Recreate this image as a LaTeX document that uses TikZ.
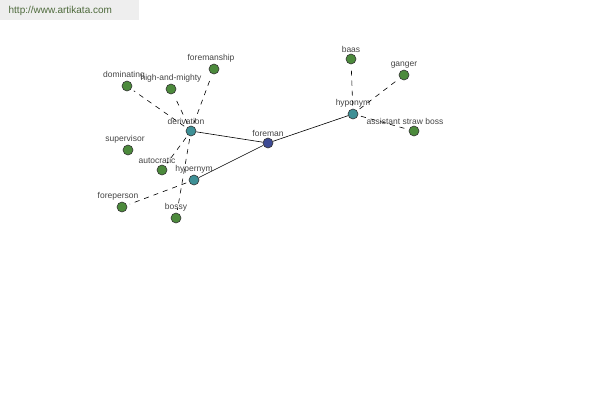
\documentclass[tikz,border=0pt]{standalone}
\usepackage{fontspec}
\setmainfont{Liberation Sans}
\definecolor{wordgreen}{HTML}{4C8A3C}
\definecolor{relteal}{HTML}{3E9096}
\definecolor{headblue}{HTML}{3D4A94}
\definecolor{lblgray}{HTML}{444444}
\definecolor{markgray}{HTML}{EEEEEE}
\definecolor{marktext}{HTML}{4E6A3C}

\begin{document}
\begin{tikzpicture}[x=1pt, y=-1pt, line width=0.6pt,
    main/.style = {draw=black!80, circle, inner sep=0pt, minimum size=10pt, label distance=1pt},
    word/.style = {main, fill=wordgreen},
    rel/.style = {main, fill=relteal},
    head/.style = {main, fill=headblue},
    lbl/.style = {text=lblgray, font=\fontsize{8.5}{10}\selectfont, inner sep=1pt},
    link/.style = {draw, dash pattern=on 5pt off 5pt, shorten <=3pt, shorten >=3pt}]

        \useasboundingbox (0,0) rectangle (600,400);

        % watermark
        \fill[markgray] (0,0) rectangle (139,20);
        \node[anchor=west, text=marktext, font=\fontsize{10}{11}\selectfont] (site) at (5,11) {http://www.artikata.com};

        \node[head] (foreman) at (268,143) [label={[lbl]above:foreman}] {};
        \node[rel] (derivation) at (191,131) [label={[lbl, xshift=-5pt]above:derivation}] {};
        \node[rel] (hypernym) at (194,180) [label={[lbl]above:hypernym}] {};
        \node[rel] (hyponym) at (353,114) [label={[lbl]above:hyponym}] {};

        \node[word] (baas) at (351,59) [label={[lbl]above:baas}] {};
        \node[word] (ganger) at (404,75) [label={[lbl]above:ganger}] {};
        \node[word] (straw) at (414,131) [label={[lbl, xshift=-9pt]above:assistant straw boss}] {};
        \node[word] (foremanship) at (214,69) [label={[lbl, xshift=-3pt]above:foremanship}] {};
        \node[word] (dominating) at (127,86) [label={[lbl, xshift=-3pt]above:dominating}] {};
        \node[word] (mighty) at (171,89) [label={[lbl]above:high-and-mighty}] {};
        \node[word] (supervisor) at (128,150) [label={[lbl, xshift=-3pt]above:supervisor}] {};
        \node[word] (autocratic) at (162,170) [label={[lbl, xshift=-5pt]above:autocratic}] {};
        \node[word] (foreperson) at (122,207) [label={[lbl, xshift=-4pt]above:foreperson}] {};
        \node[word] (bossy) at (176,218) [label={[lbl]above:bossy}] {};

        \draw (foreman) -- (derivation);
        \draw (foreman) -- (hypernym);
        \draw (foreman) -- (hyponym);

        \draw[link] (hyponym) -- (baas);
        \draw[link] (hyponym) -- (ganger);
        \draw[link] (hyponym) -- (straw);

        \draw[link] (derivation) -- (dominating);
        \draw[link] (derivation) -- (mighty);
        \draw[link] (derivation) -- (foremanship);
        \draw[link] (derivation) -- (autocratic);
        \draw[link] (derivation) -- (bossy);

        \draw[link] (hypernym) -- (foreperson);

    \end{tikzpicture}
\end{document}
